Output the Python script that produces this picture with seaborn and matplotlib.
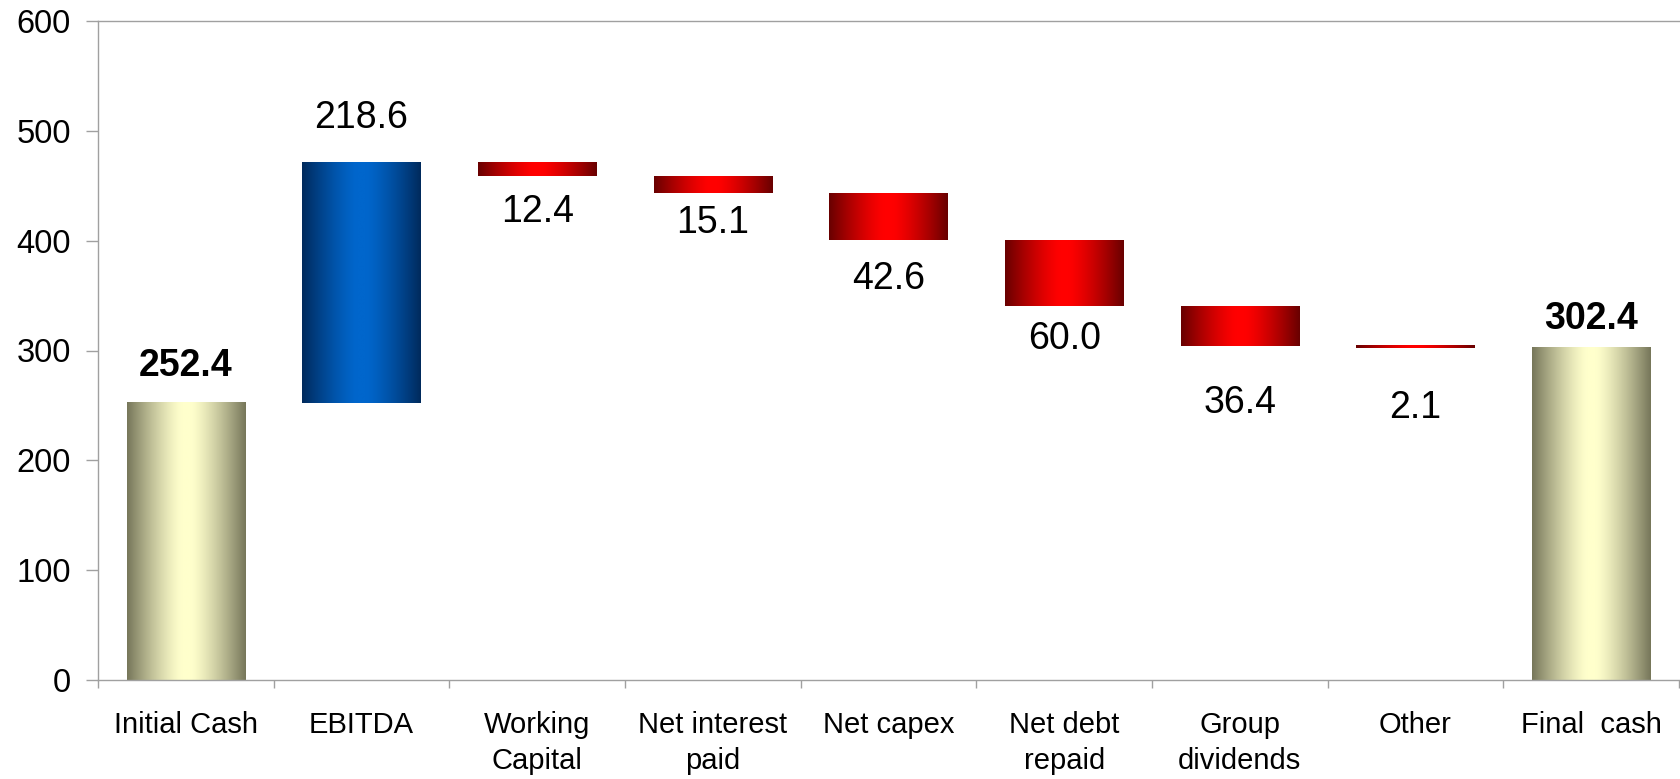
import numpy as np
import pandas as pd
import matplotlib
matplotlib.use("Agg")
import matplotlib.pyplot as plt
import seaborn as sns
from matplotlib.colors import to_rgb

# ---------------- data ----------------
categories = ["Initial Cash", "EBITDA", "Working\nCapital", "Net interest\npaid",
              "Net capex", "Net debt\nrepaid", "Group\ndividends", "Other", "Final  cash"]
changes = [252.4, 218.6, -12.4, -15.1, -42.6, -60.0, -36.4, -2.1, 302.4]
kinds = ["total", "increase", "decrease", "decrease", "decrease",
         "decrease", "decrease", "decrease", "total"]
value_labels = ["252.4", "218.6", "12.4", "15.1", "42.6", "60.0", "36.4", "2.1", "302.4"]
y_ticks = [0, 100, 200, 300, 400, 500, 600]

# waterfall geometry derived from the values
bottoms, heights = [], []
running = 0.0
for v, k in zip(changes, kinds):
    if k == "total":
        bottoms.append(0.0)
        heights.append(v)
        running = v
    else:
        new = running + v
        bottoms.append(min(running, new))
        heights.append(abs(v))
        running = new

df = pd.DataFrame({"category": categories, "height": heights, "bottom": bottoms, "kind": kinds})

# ---------------- style ----------------
sns.set_theme(style="white")
plt.rcParams["font.family"] = ["Liberation Sans", "DejaVu Sans"]

gradients = {
    "total": ("#76765A", "#FFFFCC"),
    "increase": ("#002A5C", "#0066CC"),
    "decrease": ("#680000", "#FF0000"),
}
# per-label offsets in pixels (baseline relative to bar edge)
label_offsets = [27, 35, -46, -40, -49, -43, -67, -70, 19]

W, H = 1681, 779
fig = plt.figure(figsize=(W / 100, H / 100), dpi=100)
ax = fig.add_axes([98 / W, 99 / H, 1581 / W, 659 / H])

sns.barplot(data=df, x="category", y="height", bottom=df["bottom"].values,
            width=0.675, color="white", errorbar=None, linewidth=0, ax=ax)

def grad_img(kind, n=256):
    edge, center = np.array(to_rgb(gradients[kind][0])), np.array(to_rgb(gradients[kind][1]))
    t = np.abs(np.linspace(-1, 1, n))
    f = np.clip((t - 0.08) / 0.92, 0, 1) ** 1.3
    cols = center[None, :] * (1 - f[:, None]) + edge[None, :] * f[:, None]
    return cols[None, :, :]

for p, kind in zip(ax.patches, kinds):
    x0, y0, w, h = p.get_x(), p.get_y(), p.get_width(), p.get_height()
    p.set_facecolor("none")
    ax.imshow(grad_img(kind), extent=[x0, x0 + w, y0, y0 + h], aspect="auto",
              interpolation="bilinear", zorder=2)

ax.set_xlim(-0.5, len(categories) - 0.5)
ax.set_ylim(0, 600)
ax.set_yticks(y_ticks)
ax.set_yticklabels([str(t) for t in y_ticks], fontsize=23.5)
ax.set_xticks(range(len(categories)))
ax.set_xticklabels(categories, fontsize=21, linespacing=1.4)

# value labels
for i, (lab, kind, b, h, off) in enumerate(zip(value_labels, kinds, bottoms, heights, label_offsets)):
    anchor = b + h if off > 0 else b
    ax.annotate(lab, (i, anchor), xytext=(0, off), textcoords="offset pixels",
                ha="center", va="baseline", fontsize=27, color="black",
                fontweight="bold" if kind == "total" else "normal", zorder=5)

# axes styling
ax.set_xlabel("")
ax.set_ylabel("")
spine_col = "#A0A0A0"
for s in ["left", "bottom", "top"]:
    ax.spines[s].set_visible(True)
    ax.spines[s].set_color(spine_col)
    ax.spines[s].set_linewidth(1.0)
ax.spines["right"].set_visible(False)

ax.tick_params(axis="y", which="major", direction="out", length=8.6, width=1.0,
               color=spine_col, pad=11, left=True, labelcolor="black")
ax.tick_params(axis="x", which="major", length=0, pad=22, labelcolor="black")
ax.set_xticks(np.arange(-0.5, len(categories), 1.0), minor=True)
ax.tick_params(axis="x", which="minor", direction="out", length=6, width=1.0,
               color=spine_col, bottom=True)

fig.savefig("out.png", dpi=100, facecolor="white")
